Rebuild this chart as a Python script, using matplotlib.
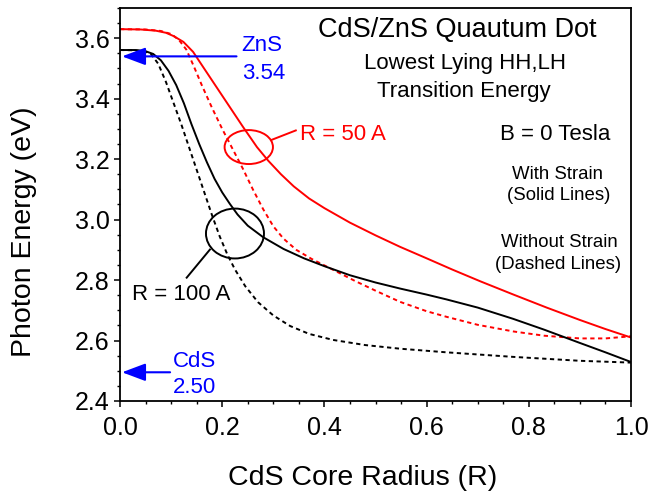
import matplotlib
matplotlib.use("Agg")
import matplotlib.pyplot as plt
from matplotlib.patches import Ellipse
from matplotlib.ticker import MultipleLocator, FormatStrFormatter

plt.rcParams['font.family'] = ['Liberation Sans', 'DejaVu Sans']

# --- data ---
# R = 50 A, with strain (solid red)
r50_strain_x = [0.000, 0.040, 0.070, 0.090, 0.105, 0.124, 0.143, 0.163, 0.189, 0.215,
                0.241, 0.268, 0.290, 0.315, 0.340, 0.370, 0.400, 0.450, 0.500, 0.548,
                0.600, 0.650, 0.705, 0.770, 0.835, 0.900, 0.950, 1.000]
r50_strain_y = [3.630, 3.629, 3.625, 3.618, 3.607, 3.588, 3.555, 3.504, 3.438, 3.372,
                3.306, 3.240, 3.195, 3.150, 3.110, 3.070, 3.038, 2.990, 2.948, 2.910,
                2.872, 2.835, 2.796, 2.752, 2.709, 2.668, 2.638, 2.610]
# R = 50 A, without strain (dashed red)
r50_free_x = [0.000, 0.050, 0.080, 0.100, 0.115, 0.130, 0.145, 0.160, 0.180, 0.200,
              0.220, 0.240, 0.260, 0.280, 0.300, 0.320, 0.345, 0.375, 0.417, 0.460,
              0.500, 0.548, 0.600, 0.640, 0.700, 0.770, 0.830, 0.900, 0.950, 1.000]
r50_free_y = [3.630, 3.629, 3.624, 3.614, 3.595, 3.562, 3.505, 3.445, 3.370, 3.300,
              3.235, 3.170, 3.100, 3.035, 2.978, 2.937, 2.900, 2.870, 2.834, 2.797,
              2.765, 2.728, 2.697, 2.678, 2.652, 2.630, 2.616, 2.607, 2.607, 2.614]
# R = 100 A, with strain (solid black)
r100_strain_x = [0.000, 0.030, 0.050, 0.065, 0.080, 0.095, 0.110, 0.125, 0.140, 0.155,
                 0.170, 0.185, 0.200, 0.215, 0.230, 0.250, 0.280, 0.320, 0.360, 0.400,
                 0.450, 0.500, 0.548, 0.600, 0.639, 0.700, 0.769, 0.830, 0.900, 0.950,
                 1.000]
r100_strain_y = [3.561, 3.561, 3.557, 3.548, 3.527, 3.492, 3.445, 3.385, 3.315, 3.250,
                 3.190, 3.135, 3.090, 3.052, 3.017, 2.980, 2.942, 2.903, 2.872, 2.846,
                 2.816, 2.792, 2.772, 2.752, 2.736, 2.709, 2.672, 2.636, 2.592, 2.561,
                 2.529]
# R = 100 A, without strain (dashed black)
r100_free_x = [0.000, 0.030, 0.050, 0.062, 0.075, 0.090, 0.105, 0.120, 0.135, 0.150,
               0.165, 0.180, 0.195, 0.210, 0.225, 0.245, 0.270, 0.300, 0.333, 0.370,
               0.417, 0.480, 0.548, 0.639, 0.769, 0.900, 1.000]
r100_free_y = [3.561, 3.560, 3.556, 3.545, 3.515, 3.455, 3.385, 3.315, 3.240, 3.165,
               3.090, 3.015, 2.945, 2.885, 2.835, 2.780, 2.727, 2.683, 2.648, 2.622,
               2.602, 2.585, 2.573, 2.561, 2.546, 2.533, 2.527]

zns_gap = 3.54
cds_gap = 2.495

RED = '#ff0000'
BLUE = '#0000ff'

fig = plt.figure(figsize=(6.65, 4.91), dpi=100)
ax = fig.add_axes([120/665, 1-401/491, 511/665, 393/491])

ax.plot(r50_strain_x, r50_strain_y, color=RED, lw=1.4)
ax.plot(r50_free_x, r50_free_y, color=RED, lw=1.4, dashes=(2.2, 1.8))
ax.plot(r100_strain_x, r100_strain_y, color='black', lw=1.4)
ax.plot(r100_free_x, r100_free_y, color='black', lw=1.4, dashes=(2.2, 1.8))

ax.set_xlim(0, 1.0)
ax.set_ylim(2.4, 3.7)
ax.xaxis.set_major_locator(MultipleLocator(0.2))
ax.xaxis.set_minor_locator(MultipleLocator(0.05))
ax.yaxis.set_major_locator(MultipleLocator(0.2))
ax.yaxis.set_minor_locator(MultipleLocator(0.05))
ax.xaxis.set_major_formatter(FormatStrFormatter('%.1f'))
ax.yaxis.set_major_formatter(FormatStrFormatter('%.1f'))
ax.tick_params(which='major', direction='out', length=4.5, width=1.1, labelsize=18)
ax.tick_params(which='minor', direction='out', length=2.5, width=1.0)
ax.tick_params(axis='x', which='major', pad=6)
ax.tick_params(axis='y', which='major', pad=3)
for s in ax.spines.values():
    s.set_linewidth(1.3)

ax.set_xlabel('CdS Core Radius (R)', fontsize=20.5)
ax.set_ylabel('Photon Energy (eV)', fontsize=20.5)
ax.xaxis.set_label_coords(0.475, -0.163)
ax.yaxis.set_label_coords(-0.162, 0.43)

# annotations
ax.text(0.660, 3.603, 'CdS/ZnS Quautum Dot', ha='center', va='baseline', fontsize=19.5)
ax.text(0.675, 3.499, 'Lowest Lying HH,LH', ha='center', va='baseline', fontsize=16)
ax.text(0.672, 3.405, 'Transition Energy', ha='center', va='baseline', fontsize=16)
ax.text(0.851, 3.262, 'B = 0 Tesla', ha='center', va='baseline', fontsize=16)
ax.text(0.856, 3.135, 'With Strain', ha='center', va='baseline', fontsize=13.4)
ax.text(0.859, 3.064, '(Solid Lines)', ha='center', va='baseline', fontsize=13.4)
ax.text(0.859, 2.910, 'Without Strain', ha='center', va='baseline', fontsize=13.4)
ax.text(0.858, 2.835, '(Dashed Lines)', ha='center', va='baseline', fontsize=13.4)

# R = 50 A label with ellipse
ax.add_patch(Ellipse((0.252, 3.24), 0.0946, 0.1123, fill=False, edgecolor=RED, lw=1.4))
ax.plot([0.297, 0.344], [3.264, 3.295], color=RED, lw=1.4)
ax.text(0.352, 3.264, 'R = 50 A', color=RED, ha='left', va='baseline', fontsize=16)

# R = 100 A label with ellipse
ax.add_patch(Ellipse((0.225, 2.954), 0.1135, 0.165, fill=False, edgecolor='black', lw=1.4))
ax.plot([0.176, 0.1305], [2.901, 2.808], color='black', lw=1.4)
ax.text(0.023, 2.734, 'R = 100 A', color='black', ha='left', va='baseline', fontsize=16)

# band gap arrows
arrow_kw = dict(arrowstyle='-|>,head_length=0.8,head_width=0.3', color=BLUE,
                lw=1.5, mutation_scale=18, shrinkA=0, shrinkB=0)
ax.annotate('', xy=(0.004, zns_gap), xytext=(0.228, zns_gap), arrowprops=arrow_kw)
ax.text(0.238, 3.559, 'ZnS', color=BLUE, ha='left', va='baseline', fontsize=16)
ax.text(0.238, 3.466, f'{zns_gap:.2f}', color=BLUE, ha='left', va='baseline', fontsize=16)
ax.annotate('', xy=(0.004, cds_gap), xytext=(0.098, cds_gap), arrowprops=arrow_kw)
ax.text(0.104, 2.513, 'CdS', color=BLUE, ha='left', va='baseline', fontsize=16)
ax.text(0.104, 2.425, '2.50', color=BLUE, ha='left', va='baseline', fontsize=16)

fig.savefig('out.png', dpi=100)
